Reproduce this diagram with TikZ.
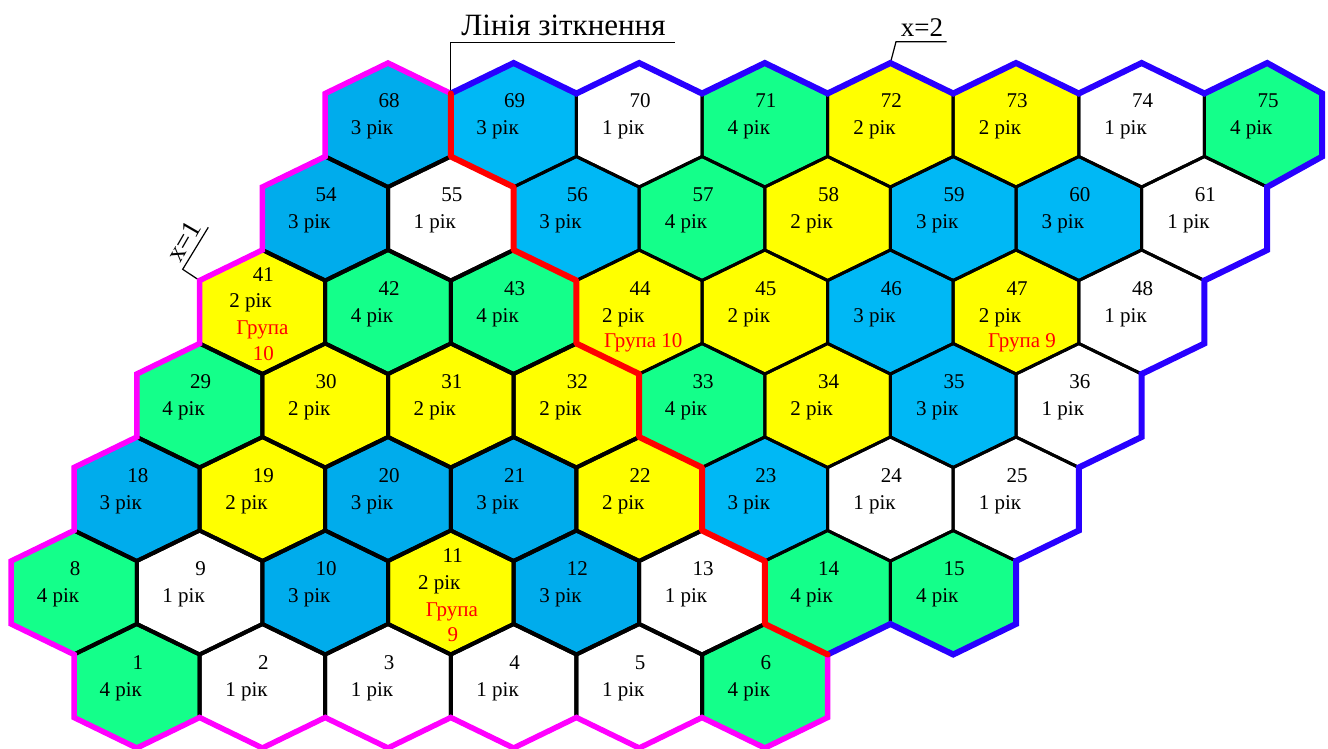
\documentclass[tikz,border=0pt]{standalone}
\usepackage{fontspec}
\setmainfont{Liberation Serif}
\usetikzlibrary{calc}
\pgfdeclarelayer{background}
\pgfsetlayers{background,main}
\definecolor{cgreen}{RGB}{20,255,138}
\definecolor{cyel}{RGB}{255,255,0}
\definecolor{lblue}{RGB}{0,172,236}
\definecolor{rblue}{RGB}{0,184,245}
\definecolor{bmag}{RGB}{255,0,255}
\definecolor{bblue}{RGB}{40,0,255}
\definecolor{bred}{RGB}{255,0,0}
\newcommand\rw{62.8}
\newcommand\cellbase[5]{%
  \pgfmathsetmacro\cx{74+62.8*(#2-2+2*(#2==1)+2*#3)}%
  \pgfmathsetmacro\cy{686-93.5*(#2-1)}%
  \coordinate (h#1) at (\cx,\cy);
  \coordinate (h#1T) at ($(h#1)+(0,-62)$);
  \coordinate (h#1UR) at ($(h#1)+(\rw,-31.5)$);
  \coordinate (h#1LR) at ($(h#1)+(\rw,31.5)$);
  \coordinate (h#1B) at ($(h#1)+(0,62)$);
  \coordinate (h#1LL) at ($(h#1)+(-62.8,31.5)$);
  \coordinate (h#1UL) at ($(h#1)+(-62.8,-31.5)$);
  \begin{pgfonlayer}{background}
    \fill[#4] (h#1T)--(h#1UR)--(h#1LR)--(h#1B)--(h#1LL)--(h#1UL)--cycle;
  \end{pgfonlayer}
  \draw[#5] (h#1T)--(h#1UR)--(h#1LR)--(h#1B)--(h#1LL)--(h#1UL)--cycle;
}
\newcommand\cell[6]{%
  \cellbase{#1}{#2}{#3}{#4}{#5}
  \node[num] (n#1) at ($(h#1)+(1,-17)$) {#1};
  \node[num] (y#1) at ($(h#1)+(-16,10)$) {#6 рік};
}
\begin{document}
\begin{tikzpicture}[x=1pt,y=-1pt,
  num/.style={anchor=base,inner sep=0pt,font=\fontsize{21}{25}\selectfont},
  grp/.style={num,text=bred},
  lb/.style={draw=black,line width=4pt,line join=round},
  rb/.style={draw=black,line width=3pt,line join=round},
  magb/.style={draw=bmag,line width=5.5pt,line join=miter},
  blueb/.style={draw=bblue,line width=6pt,line join=miter},
  redb/.style={draw=bred,line width=6pt,line join=round,line cap=round},
  lead/.style={draw=black,line width=1.2pt},
  lbl/.style={anchor=base,inner sep=0pt,font=\fontsize{31}{36}\selectfont},
  xlbl/.style={anchor=base,inner sep=0pt,font=\fontsize{27}{32}\selectfont}]
\useasboundingbox (0,0) rectangle (1328,749);
% ---- left region
\cell{1}{1}{0}{cgreen}{lb}{4}
\cell{2}{1}{1}{white}{lb}{1}
\cell{3}{1}{2}{white}{lb}{1}
\cell{4}{1}{3}{white}{lb}{1}
\cell{5}{1}{4}{white}{lb}{1}
\cell{6}{1}{5}{cgreen}{lb}{4}
\cell{8}{2}{0}{cgreen}{lb}{4}
\cell{9}{2}{1}{white}{lb}{1}
\cell{10}{2}{2}{lblue}{lb}{3}
\cellbase{11}{2}{3}{cyel}{lb}
\node[num] (n11) at ($(h11)+(2,-30)$) {11};
\node[num] (y11) at ($(h11)+(-11.5,-3)$) {2 рік};
\node[grp] (g11a) at ($(h11)+(1,23.5)$) {Група};
\node[grp] (g11b) at ($(h11)+(2,49)$) {9};
\cell{12}{2}{4}{lblue}{lb}{3}
\cell{13}{2}{5}{white}{lb}{1}
\cell{18}{3}{0}{lblue}{lb}{3}
\cell{19}{3}{1}{cyel}{lb}{2}
\cell{20}{3}{2}{lblue}{lb}{3}
\cell{21}{3}{3}{lblue}{lb}{3}
\cell{22}{3}{4}{cyel}{lb}{2}
\cell{29}{4}{0}{cgreen}{lb}{4}
\cell{30}{4}{1}{cyel}{lb}{2}
\cell{31}{4}{2}{cyel}{lb}{2}
\cell{32}{4}{3}{cyel}{lb}{2}
\cellbase{41}{5}{0}{cyel}{lb}
\node[num] (n41) at ($(h41)+(1,-31)$) {41};
\node[num] (y41) at ($(h41)+(-12,-4.5)$) {2 рік};
\node[grp] (g41a) at ($(h41)+(0,22.5)$) {Група};
\node[grp] (g41b) at ($(h41)+(1,48)$) {10};
\cell{42}{5}{1}{cgreen}{lb}{4}
\cell{43}{5}{2}{cgreen}{lb}{4}
\cell{54}{6}{0}{lblue}{lb}{3}
\cell{55}{6}{1}{white}{lb}{1}
\cell{68}{7}{0}{lblue}{lb}{3}
% ---- right region
\cell{14}{2}{6}{cgreen}{rb}{4}
\cell{15}{2}{7}{cgreen}{rb}{4}
\cell{23}{3}{5}{rblue}{rb}{3}
\cell{24}{3}{6}{white}{rb}{1}
\cell{25}{3}{7}{white}{rb}{1}
\cell{33}{4}{4}{cgreen}{rb}{4}
\cell{34}{4}{5}{cyel}{rb}{2}
\cell{35}{4}{6}{rblue}{rb}{3}
\cell{36}{4}{7}{white}{rb}{1}
\cell{44}{5}{3}{cyel}{rb}{2}
\node[grp] (g44) at ($(h44)+(4,35)$) {Група 10};
\cell{45}{5}{4}{cyel}{rb}{2}
\cell{46}{5}{5}{rblue}{rb}{3}
\cell{47}{5}{6}{cyel}{rb}{2}
\node[grp] (g47) at ($(h47)+(6,35)$) {Група 9};
\cell{48}{5}{7}{white}{rb}{1}
\cell{56}{6}{2}{rblue}{rb}{3}
\cell{57}{6}{3}{cgreen}{rb}{4}
\cell{58}{6}{4}{cyel}{rb}{2}
\cell{59}{6}{5}{rblue}{rb}{3}
\cell{60}{6}{6}{rblue}{rb}{3}
\cell{61}{6}{7}{white}{rb}{1}
\cell{69}{7}{1}{rblue}{rb}{3}
\cell{70}{7}{2}{white}{rb}{1}
\cell{71}{7}{3}{cgreen}{rb}{4}
\cell{72}{7}{4}{cyel}{rb}{2}
\cell{73}{7}{5}{cyel}{rb}{2}
\cell{74}{7}{6}{white}{rb}{1}
\renewcommand\rw{55}
\cell{75}{7}{7}{cgreen}{rb}{4}
% ---- labels and leaders
\coordinate (lk) at (h69UL |- {(0,42.7)});
\coordinate (lkend) at (675,42.7);
\draw[lead] (h69UL) -- (lk) -- (lkend);
\node[lbl] (lt) at (563.5,36) {Лінія зіткнення};
\coordinate (x2a) at (896,41.7);
\coordinate (x2b) at (946.7,41.7);
\draw[lead] (h72T) -- (x2a) -- (x2b);
\node[xlbl] (x2) at (922,36.2) {x=2};
\coordinate (x1a) at (182.7,269.3);
\coordinate (x1b) at (208.3,227.3);
\draw[lead] (h41UL) -- (x1a) -- (x1b);
\node[xlbl,rotate=60] (x1) at (191.2,245.7) {x=1};
% ---- boundaries
\draw[magb] (h68UR)--(h68T)--(h68UL)--(h68LL)--(h54UL)--(h54LL)--(h41UL)--(h41LL)--(h29UL)--(h29LL)--(h18UL)--(h18LL)--(h8UL)--(h8LL)--(h8B)--(h1LL)--(h1B)--(h1LR)--(h2B)--(h2LR)--(h3B)--(h3LR)--(h4B)--(h4LR)--(h5B)--(h5LR)--(h6B)--(h6LR)--(h6UR);
\draw[blueb] (h69UL)--(h69T)--(h69UR)--(h70T)--(h70UR)--(h71T)--(h71UR)--(h72T)--(h72UR)--(h73T)--(h73UR)--(h74T)--(h74UR)--(h75T)--(h75UR)--(h75LR)--(h75B)--(h61LR)--(h61B)--(h48LR)--(h48B)--(h36LR)--(h36B)--(h25LR)--(h25B)--(h15LR)--(h15B)--(h15LL)--(h14B);
\draw[redb] (h14B)--(h14LL)--(h14UL)--(h23LL)--(h23UL)--(h33LL)--(h33UL)--(h44LL)--(h44UL)--(h56LL)--(h56UL)--(h69LL)--(h69UL);
\end{tikzpicture}
\end{document}
